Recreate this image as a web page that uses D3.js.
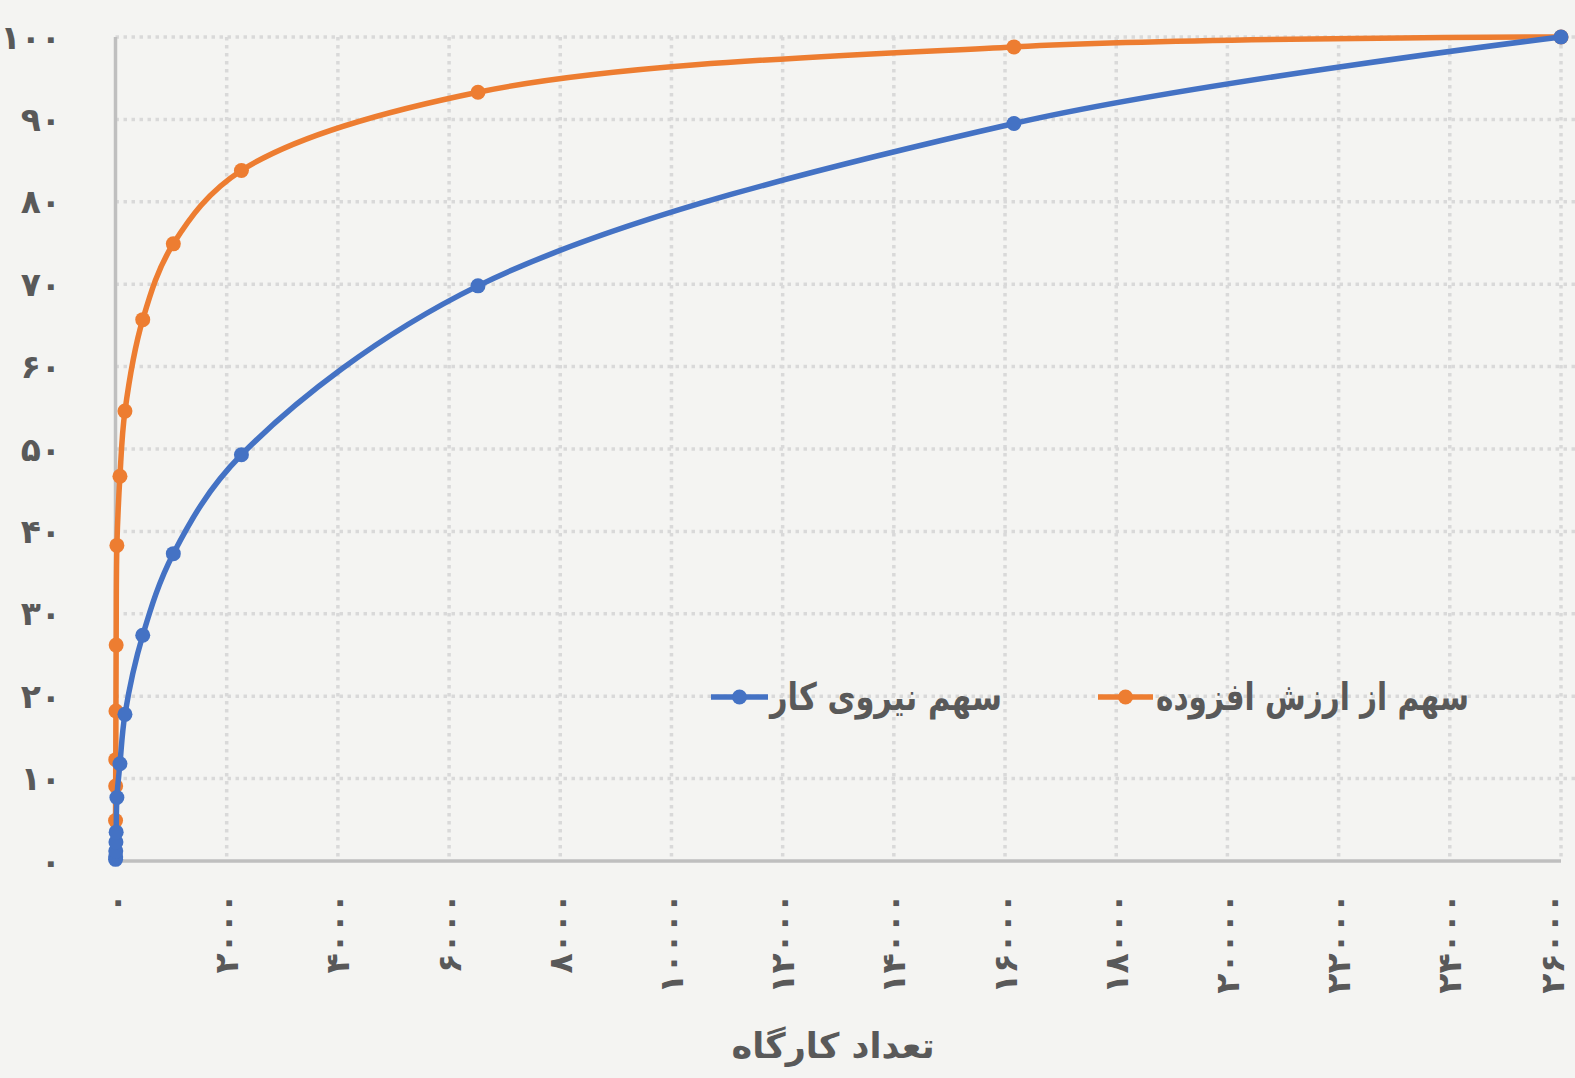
<!DOCTYPE html>
<html lang="fa">
<head>
<meta charset="utf-8">
<title>سهم کارگاه‌ها</title>
<script src="https://d3js.org/d3.v7.min.js"></script>
<style>
    body { margin: 0; background: #f4f4f2; }
    svg { display: block; font-family: "DejaVu Sans", sans-serif; font-weight: bold; }
    .grid line { stroke: #d9d9d9; stroke-width: 3.5; stroke-dasharray: 3.5 4.5; }
    .tick-label { fill: #595959; }
</style>
</head>
<body>
<svg width="1575" height="1078"></svg>
<script>
    // cumulative number of workshops (x) and cumulative shares in percent (y)
    var workshops   = [1, 3, 5, 8, 12, 25, 80, 170, 490, 1040, 2265, 6520, 16160, 26000];
    var valueAdded  = [4.9, 9.1, 12.3, 18.2, 26.2, 38.3, 46.7, 54.6, 65.7, 74.9, 83.8, 93.3, 98.8, 100];
    var labourShare = [0.2, 0.5, 1.2, 2.3, 3.5, 7.7, 11.8, 17.8, 27.4, 37.3, 49.3, 69.8, 89.5, 100];

    var xTicks = [0, 2000, 4000, 6000, 8000, 10000, 12000, 14000, 16000, 18000, 20000, 22000, 24000, 26000];
    var yTicks = [0, 10, 20, 30, 40, 50, 60, 70, 80, 90, 100];

    var seriesNames = ["سهم نیروی کار", "سهم از ارزش افزوده"];
    var xTitle = "تعداد کارگاه";

    var fa = "۰۱۲۳۴۵۶۷۸۹";
    function toFa(n) { return String(n).replace(/[0-9]/g, function(c) { return fa[+c]; }); }

    var svg = d3.select("svg"),
        margin = {top: 37, right: 14, bottom: 217, left: 115.5},
        width = 1575 - margin.left - margin.right,
        height = 1078 - margin.top - margin.bottom;

    var x = d3.scaleLinear().domain([0, 26000]).range([margin.left, margin.left + width]),
        y = d3.scaleLinear().domain([0, 100]).range([margin.top + height, margin.top]);

    // gridlines
    var grid = svg.append("g").attr("class", "grid");
    grid.selectAll(".h").data(yTicks.slice(1)).enter().append("line")
        .attr("x1", x(0)).attr("x2", 1575)
        .attr("y1", function(d) { return y(d); }).attr("y2", function(d) { return y(d); });
    grid.selectAll(".v").data(xTicks.slice(1)).enter().append("line")
        .attr("x1", function(d) { return x(d); }).attr("x2", function(d) { return x(d); })
        .attr("y1", y(100)).attr("y2", y(0));

    // axis lines
    svg.append("line").attr("x1", x(0)).attr("x2", x(0)).attr("y1", y(100)).attr("y2", y(0))
        .attr("stroke", "#bfbfbf").attr("stroke-width", 3.5);
    svg.append("line").attr("x1", x(0) - 1.5).attr("x2", x(26000)).attr("y1", y(0)).attr("y2", y(0))
        .attr("stroke", "#bfbfbf").attr("stroke-width", 3.5);

    // tick labels
    svg.selectAll(".ylab").data(yTicks).enter().append("text")
        .attr("class", "tick-label")
        .attr("x", 61).attr("y", function(d) { return y(d); })
        .attr("dy", "0.35em")
        .attr("text-anchor", "end")
        .style("font-size", "33px")
        .text(function(d) { return toFa(d); });

    // last label sits at the right edge, nudge it inside
    svg.selectAll(".xlab").data(xTicks).enter().append("text")
        .attr("class", "tick-label")
        .attr("transform", function(d) { return "translate(" + Math.min(x(d), 1552) + "," + 893 + ") rotate(-90)"; })
        .attr("dy", "0.35em")
        .attr("text-anchor", "end")
        .style("font-size", "33px")
        .text(function(d) { return toFa(d); });

    svg.append("text")
        .attr("class", "tick-label")
        .attr("x", 833).attr("y", 1058)
        .attr("text-anchor", "middle")
        .style("font-size", "35px")
        .text(xTitle);

    // series
    var line = d3.line()
        .curve(d3.curveCatmullRom.alpha(0.5))
        .x(function(d) { return x(d[0]); })
        .y(function(d) { return y(d[1]); });

    var series = [
        {name: seriesNames[1], color: "#ed7d31", values: workshops.map(function(w, i) { return [w, valueAdded[i]]; })},
        {name: seriesNames[0], color: "#4472c4", values: workshops.map(function(w, i) { return [w, labourShare[i]]; })}
    ];

    var s = svg.selectAll(".series").data(series).enter().append("g").attr("class", "series");
    s.append("path")
        .attr("fill", "none")
        .attr("stroke", function(d) { return d.color; })
        .attr("stroke-width", 5.5)
        .attr("d", function(d) { return line(d.values); });
    s.selectAll("circle").data(function(d) { return d.values.map(function(v) { return {v: v, c: d.color}; }); })
        .enter().append("circle")
        .attr("cx", function(d) { return x(d.v[0]); })
        .attr("cy", function(d) { return y(d.v[1]); })
        .attr("r", 7.5)
        .attr("fill", function(d) { return d.c; });

    // legend
    var legend = [
        {name: seriesNames[0], color: "#4472c4", x1: 711, x2: 768, tx: 1002, len: 232},
        {name: seriesNames[1], color: "#ed7d31", x1: 1098, x2: 1153, tx: 1469, len: 313}
    ];
    var lg = svg.selectAll(".legend").data(legend).enter().append("g").attr("class", "legend");
    lg.append("line")
        .attr("x1", function(d) { return d.x1; }).attr("x2", function(d) { return d.x2; })
        .attr("y1", 697).attr("y2", 697)
        .attr("stroke", function(d) { return d.color; }).attr("stroke-width", 5.5);
    lg.append("circle")
        .attr("cx", function(d) { return (d.x1 + d.x2) / 2; }).attr("cy", 697).attr("r", 7.5)
        .attr("fill", function(d) { return d.color; });
    lg.append("text")
        .attr("class", "tick-label")
        .attr("x", function(d) { return d.tx - d.len; }).attr("y", 697)
        .attr("dy", "0.35em")
        .attr("textLength", function(d) { return d.len; })
        .attr("lengthAdjust", "spacingAndGlyphs")
        .style("font-size", "38px")
        .text(function(d) { return d.name; });
</script>
</body>
</html>
